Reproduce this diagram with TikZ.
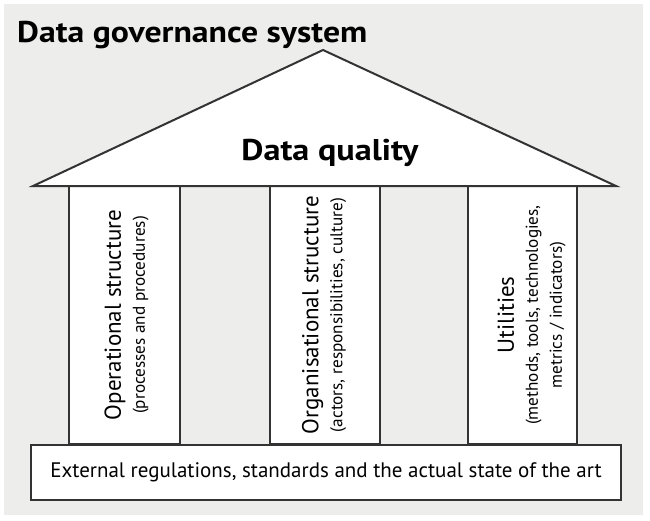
\documentclass[tikz,border=0pt]{standalone}
\usepackage{fontspec}
\setmainfont{PT Sans}
\definecolor{panel}{HTML}{EDEEEC}
\definecolor{ink}{HTML}{333333}
\begin{document}
\begin{tikzpicture}[x=1pt,y=-1pt,
  outline/.style={draw=ink,line width=2pt,fill=white,line join=miter},
  coltext/.style={rotate=90,align=center,inner sep=0pt,font=\fontsize{23}{24}\selectfont},
  boldtext/.style={inner sep=0pt,font=\fontsize{30}{34}\selectfont\bfseries}]
\newcommand{\subline}[1]{{\fontsize{17.2}{24}\selectfont #1}}
\useasboundingbox (0,0) rectangle (650,520);
\fill[white] (0,0) rectangle (650,520);
\fill[panel] (4,4) rectangle (643,515);
% columns
\draw[outline] (69,186) rectangle (180,444);
\draw[outline] (270,186) rectangle (380,444);
\draw[outline] (468,186) rectangle (577,444);
% roof
\draw[outline] (33,186) -- (323,50) -- (616,186) -- cycle;
% base
\node[outline,minimum width=590pt,minimum height=55pt,inner sep=0pt,anchor=north west,
  font=\fontsize{21}{24}\selectfont] (base) at (30,444) {External regulations, standards and the actual state of the art};
\node[boldtext,anchor=base west] (title) at (17,42) {\scalebox{1.125}[1]{Data governance system}};
\node[boldtext,anchor=base] (dq) at (330,160) {\scalebox{1.14}[1]{Data quality}};
\node[coltext] (c1) at (126.5,315) {Operational structure\\\subline{(processes and procedures)}};
\node[coltext] (c2) at (324,315) {Organisational structure\\\subline{(actors, responsibilities, culture)}};
\node[coltext] (c3) at (531.5,315) {Utilities\\\subline{(methods, tools, technologies,}\\\subline{metrics / indicators)}};
\end{tikzpicture}
\end{document}
